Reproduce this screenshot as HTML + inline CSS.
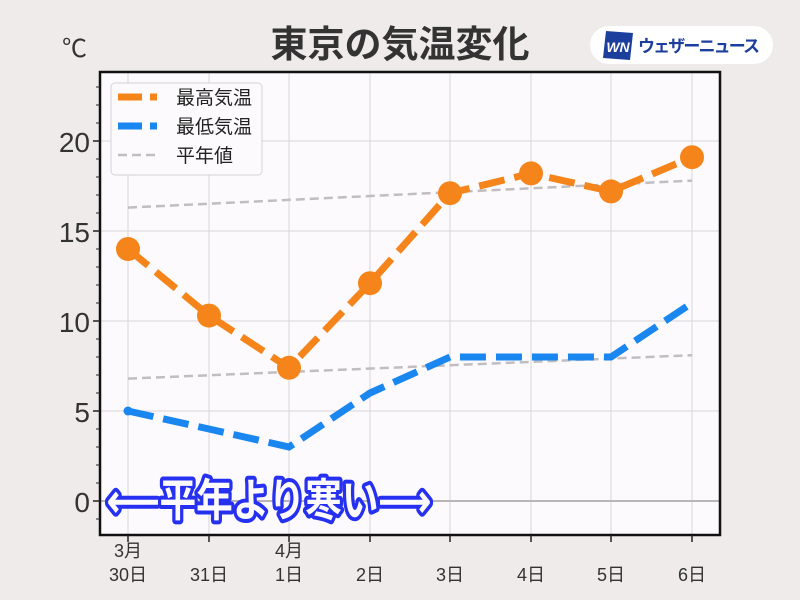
<!DOCTYPE html>
<html><head><meta charset="utf-8"><style>
body{margin:0;background:#eeebea;}
svg{display:block;font-family:"Liberation Sans","Noto Sans CJK JP",sans-serif;}
</style></head><body>
<svg width="800" height="600" viewBox="0 0 800 600">
<rect width="800" height="600" fill="#eeebea"/>
<rect x="100" y="72" width="620" height="463" fill="#fcfafc"/>
<g stroke="#d8d6d8" stroke-width="1">
<line x1="128" y1="72" x2="128" y2="535"/><line x1="209" y1="72" x2="209" y2="535"/><line x1="289" y1="72" x2="289" y2="535"/><line x1="370" y1="72" x2="370" y2="535"/><line x1="450" y1="72" x2="450" y2="535"/><line x1="531" y1="72" x2="531" y2="535"/><line x1="611" y1="72" x2="611" y2="535"/><line x1="692" y1="72" x2="692" y2="535"/>
<line x1="100" y1="141" x2="720" y2="141"/><line x1="100" y1="231" x2="720" y2="231"/><line x1="100" y1="321" x2="720" y2="321"/><line x1="100" y1="411" x2="720" y2="411"/>
</g>
<line x1="100" y1="501" x2="720" y2="501" stroke="#b8b6b8" stroke-width="2"/>
<g fill="none" stroke="#c0bec0" stroke-width="2.5" stroke-dasharray="9,5">
<polyline points="128,207.6 692,180.6"/>
<polyline points="128,378.6 692,355.2"/>
</g>
<polyline points="128,411 209,429 289,447 370,393 450,357 531,357 611,357 692,303" fill="none" stroke="#1a86ef" stroke-width="7" stroke-dasharray="26,10"/>
<circle cx="128" cy="411" r="4.5" fill="#1a86ef"/>
<polyline points="128,249 209,315.6 289,367.8 370,283.2 450,193.2 531,173.4 611,191.4 692,157.2" fill="none" stroke="#f5841b" stroke-width="7" stroke-dasharray="26,10"/>
<g fill="#f5841b">
<circle cx="128" cy="249" r="12"/><circle cx="209" cy="315.6" r="12"/><circle cx="289" cy="367.8" r="12"/><circle cx="370" cy="283.2" r="12"/><circle cx="450" cy="193.2" r="12"/><circle cx="531" cy="173.4" r="12"/><circle cx="611" cy="191.4" r="12"/><circle cx="692" cy="157.2" r="12"/>
</g>
<rect x="100" y="72" width="620" height="463" fill="none" stroke="#111" stroke-width="2.5"/>
<g stroke="#222" stroke-width="1.5">
<line x1="93" y1="141" x2="100" y2="141"/><line x1="93" y1="231" x2="100" y2="231"/><line x1="93" y1="321" x2="100" y2="321"/><line x1="93" y1="411" x2="100" y2="411"/><line x1="93" y1="501" x2="100" y2="501"/>
</g>
<g stroke="#222" stroke-width="1">
<line x1="96" y1="87" x2="100" y2="87"/><line x1="96" y1="105" x2="100" y2="105"/><line x1="96" y1="123" x2="100" y2="123"/>
<line x1="96" y1="159" x2="100" y2="159"/><line x1="96" y1="177" x2="100" y2="177"/><line x1="96" y1="195" x2="100" y2="195"/><line x1="96" y1="213" x2="100" y2="213"/>
<line x1="96" y1="249" x2="100" y2="249"/><line x1="96" y1="267" x2="100" y2="267"/><line x1="96" y1="285" x2="100" y2="285"/><line x1="96" y1="303" x2="100" y2="303"/>
<line x1="96" y1="339" x2="100" y2="339"/><line x1="96" y1="357" x2="100" y2="357"/><line x1="96" y1="375" x2="100" y2="375"/><line x1="96" y1="393" x2="100" y2="393"/>
<line x1="96" y1="429" x2="100" y2="429"/><line x1="96" y1="447" x2="100" y2="447"/><line x1="96" y1="465" x2="100" y2="465"/><line x1="96" y1="483" x2="100" y2="483"/>
<line x1="96" y1="519" x2="100" y2="519"/>
</g>
<g stroke="#222" stroke-width="1.5">
<line x1="128" y1="535" x2="128" y2="542"/><line x1="209" y1="535" x2="209" y2="542"/><line x1="289" y1="535" x2="289" y2="542"/><line x1="370" y1="535" x2="370" y2="542"/><line x1="450" y1="535" x2="450" y2="542"/><line x1="531" y1="535" x2="531" y2="542"/><line x1="611" y1="535" x2="611" y2="542"/><line x1="692" y1="535" x2="692" y2="542"/>
</g>
<g fill="#333" font-size="28" text-anchor="end">
<text x="90" y="152">20</text><text x="90" y="242">15</text><text x="90" y="332">10</text><text x="90" y="422">5</text><text x="90" y="512">0</text>
</g>
<text x="62" y="57" font-size="25" fill="#333">℃</text>
<g fill="#333" font-size="18" text-anchor="middle">
<text x="128" y="557">3月</text><text x="289" y="557">4月</text>
<text x="128" y="581">30日</text><text x="209" y="581">31日</text><text x="289" y="581">1日</text><text x="370" y="581">2日</text><text x="450" y="581">3日</text><text x="531" y="581">4日</text><text x="611" y="581">5日</text><text x="692" y="581">6日</text>
</g>
<text x="400" y="57" font-size="37" font-weight="bold" fill="#333" text-anchor="middle">東京の気温変化</text>
<rect x="590" y="26" width="183" height="38" rx="19" fill="#fff"/>
<polygon points="606,31 633,33 630,60 603,58" fill="#1c3e9c"/>
<text x="618" y="52" font-size="14" font-weight="bold" font-style="italic" fill="#fff" text-anchor="middle">WN</text>
<text x="638" y="52" font-size="17" font-weight="bold" fill="#1c3e9c" textLength="122">ウェザーニュース</text>
<rect x="111" y="83" width="151" height="92" rx="4" fill="#fcfafc" stroke="#d4d2d4"/>
<line x1="118" y1="97" x2="157" y2="97" stroke="#f5841b" stroke-width="7" stroke-dasharray="24,8"/>
<line x1="118" y1="126" x2="157" y2="126" stroke="#1a86ef" stroke-width="7" stroke-dasharray="24,8"/>
<line x1="118" y1="155" x2="158" y2="155" stroke="#c0bec0" stroke-width="2.5" stroke-dasharray="9,5"/>
<g font-size="19" fill="#222">
<text x="176" y="104">最高気温</text><text x="176" y="133">最低気温</text><text x="176" y="162">平年値</text>
</g>
<text x="107" y="516" font-size="45" font-weight="bold" fill="#fcfafc" stroke="#2630f0" stroke-width="8" stroke-linejoin="round" paint-order="stroke" textLength="324" lengthAdjust="spacingAndGlyphs">⟵平年より寒い⟶</text>
</svg>
</body></html>
